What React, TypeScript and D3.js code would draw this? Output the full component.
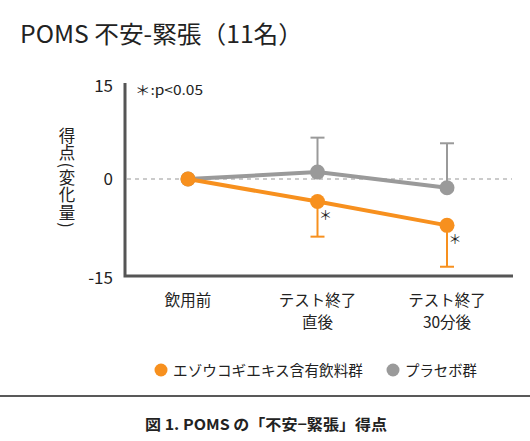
import React from "react";
import * as d3 from "d3";

const categories = ["飲用前", "テスト終了\n直後", "テスト終了\n30分後"];
const orangeValues = [0, -3.6, -7.4];
const orangeErrLow = [0, -9.2, -14.0];
const greyValues = [0, 1.1, -1.4];
const greyErrHigh = [0, 6.6, 5.7];
const significant = [false, true, true];
const yTicks = [15, 0, -15];
const seriesNames = ["エゾウコギエキス含有飲料群", "プラセボ群"];
const yLabel = "得点(変化量)";

const ORANGE = "#f7901e";
const GREY = "#9a9a9a";
const FONT = "'Noto Sans CJK JP', 'Noto Sans', sans-serif";

export default function App() {
  const W = 530, H = 441;
  const x = d3.scalePoint<string>().domain(categories).range([188, 447]);
  const y = d3.scaleLinear().domain([-15, 15]).range([273, 85]);
  const line = d3.line<number>().x((_, i) => x(categories[i])!).y((d) => y(d));
  const tickY = (t: number) => (t === -15 ? 278 : t === 15 ? 86 : y(t));

  return (
    <svg width={W} height={H} style={{ position: "absolute", left: 0, top: 0, background: "#fff" }} fontFamily={FONT}>
      <text x={20} y={43} fontSize={24} fill="#222" textLength={283} lengthAdjust="spacingAndGlyphs">POMS 不安-緊張（11名）</text>
      {/* y label (vertical) */}
      <text x={67} y={127} fontSize={16.5} fill="#222" letterSpacing={1.2}
        style={{ writingMode: "vertical-rl" as any }}>{yLabel}</text>
      {yTicks.map((t) => (
        <text key={t} x={113} y={tickY(t)} dy="0.35em" textAnchor="end" fontSize={17} fill="#222">{t}</text>
      ))}
      <text x={135} y={95} fontSize={13.5} fill="#222" textLength={68} lengthAdjust="spacingAndGlyphs">＊:p&lt;0.05</text>
      {/* zero line */}
      <line x1={127} x2={512} y1={y(0)} y2={y(0)} stroke="#bbb" strokeWidth={1.5} strokeDasharray="4,4" />
      {/* axes */}
      <path d={`M125,83 V276 H513`} fill="none" stroke="#555" strokeWidth={3} />
      {/* error bars */}
      {categories.map((c, i) => i > 0 && (
        <g key={"eb" + i}>
          <line x1={x(c)} x2={x(c)} y1={y(greyValues[i])} y2={y(greyErrHigh[i])} stroke={GREY} strokeWidth={2} />
          <line x1={x(c)! - 7} x2={x(c)! + 7} y1={y(greyErrHigh[i])} y2={y(greyErrHigh[i])} stroke={GREY} strokeWidth={2} />
          <line x1={x(c)} x2={x(c)} y1={y(orangeValues[i])} y2={y(orangeErrLow[i])} stroke={ORANGE} strokeWidth={2} />
          <line x1={x(c)! - 7} x2={x(c)! + 7} y1={y(orangeErrLow[i])} y2={y(orangeErrLow[i])} stroke={ORANGE} strokeWidth={2} />
        </g>
      ))}
      <path d={line(greyValues)!} fill="none" stroke={GREY} strokeWidth={4} />
      {greyValues.map((v, i) => <circle key={"g" + i} cx={x(categories[i])} cy={y(v)} r={7.5} fill={GREY} />)}
      <path d={line(orangeValues)!} fill="none" stroke={ORANGE} strokeWidth={4} />
      {orangeValues.map((v, i) => <circle key={"o" + i} cx={x(categories[i])} cy={y(v)} r={7.5} fill={ORANGE} />)}
      {orangeValues.map((v, i) => significant[i] && (
        <text key={"s" + i} x={x(categories[i])! + 8} y={y(v) + 14} dy="0.35em" textAnchor="middle" fontSize={13} fill="#222">＊</text>
      ))}
      {/* x labels */}
      {categories.map((c) => c.split("\n").map((l, j) => (
        <text key={c + j} x={x(c)} y={301 + j * 21.5} dy="0.35em" textAnchor="middle" fontSize={15.5} fill="#222">{l}</text>
      )))}
      {/* legend */}
      <circle cx={161} cy={370} r={6.5} fill={ORANGE} />
      <text x={173} y={375.5} fontSize={14.5} fill="#222" textLength={190} lengthAdjust="spacingAndGlyphs">{seriesNames[0]}</text>
      <circle cx={393} cy={370} r={6.5} fill={GREY} />
      <text x={405} y={375.5} fontSize={14.5} fill="#222" textLength={72} lengthAdjust="spacingAndGlyphs">{seriesNames[1]}</text>
      <line x1={0} x2={530} y1={396} y2={396} stroke="#222" strokeWidth={1.5} />
      <text x={145} y={430} fontSize={15} fontWeight="bold" fill="#222" textLength={242} lengthAdjust="spacingAndGlyphs">図 1. POMS の「不安−緊張」得点</text>
    </svg>
  );
}
